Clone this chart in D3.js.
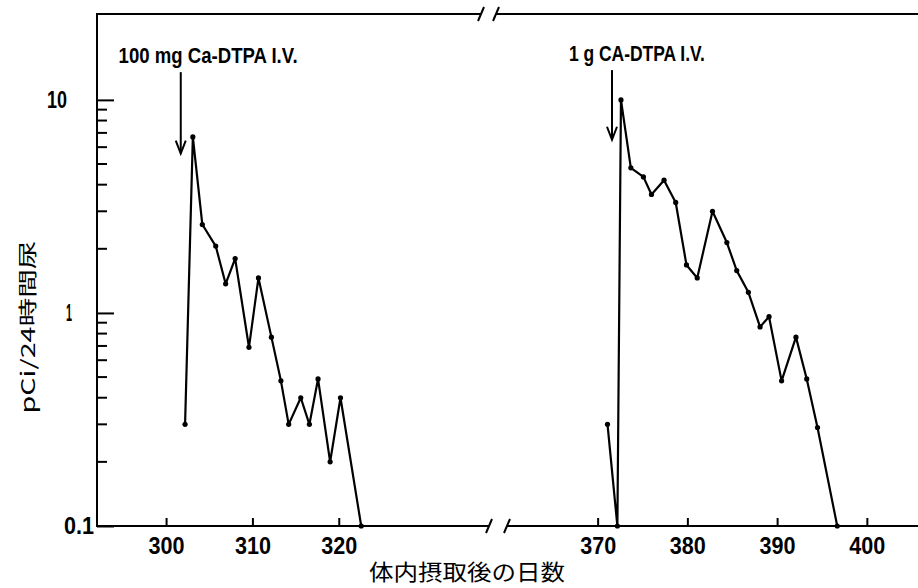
<!DOCTYPE html>
<html>
<head>
<meta charset="utf-8">
<script src="https://cdn.jsdelivr.net/npm/d3@7"></script>
<style>
  body { margin: 0; background: #fff; }
  svg { display: block; }
</style>
</head>
<body>
<div id="chart"></div>
<script>
// days after intake and pCi / 24h urine
var daysA = [302.2, 303.1, 304.2, 305.75, 306.9, 308.0, 309.6, 310.7, 312.2, 313.3, 314.2, 315.6, 316.6, 317.6, 319.0, 320.2, 322.6];
var valsA = [0.3, 6.7, 2.6, 2.06, 1.37, 1.8, 0.69, 1.46, 0.77, 0.48, 0.3, 0.4, 0.3, 0.49, 0.2, 0.4, 0.1];

var daysB = [371.1, 372.2, 372.6, 373.7, 375.1, 376.0, 377.4, 378.7, 379.9, 381.1, 382.8, 384.4, 385.5, 386.8, 388.1, 389.1, 390.5, 392.1, 393.3, 394.5, 396.7];
var valsB = [0.3, 0.1, 10, 4.8, 4.35, 3.6, 4.2, 3.3, 1.68, 1.46, 3.0, 2.14, 1.58, 1.25, 0.86, 0.96, 0.48, 0.77, 0.49, 0.29, 0.1];

var xTicks = [300, 310, 320, 370, 380, 390, 400];
var yMajor = [0.1, 1, 10];
var yMinor = [0.2, 0.3, 0.4, 0.5, 0.6, 0.7, 0.8, 0.9, 2, 3, 4, 5, 6, 7, 8, 9];

// injections
var doseLabels = ["100 mg Ca-DTPA I.V.", "1 g CA-DTPA I.V."];
var doseDays = [301.7, 371.6];
var doseFrom = [13.5, 13.8];
var doseTo = [5.6, 6.5];
var labelDays = [294.5, 366.8];

var W = 918, H = 588;
var pLeft = 97, pTop = 14, pBottom = 526;

// broken axis: two linear pieces with a gap between 337 and 360
var xBreak = [337.4, 359.9];
var x = d3.scaleLinear()
  .domain([292, xBreak[0], xBreak[1], 405.7])
  .range([pLeft, 489, 507, W]);

var y = d3.scaleLog()
  .domain([0.1, 25.3])
  .range([pBottom, pTop]);

var svg = d3.select("#chart").append("svg")
  .attr("width", W)
  .attr("height", H);

var narrow = "'Liberation Sans Narrow', 'Liberation Sans', sans-serif";

// axis frame
function seg(x1, y1, x2, y2) {
  svg.append("line")
    .attr("x1", x1).attr("y1", y1).attr("x2", x2).attr("y2", y2)
    .attr("stroke", "#000").attr("stroke-width", 2);
}
function slash(cx, cy) {
  svg.append("line")
    .attr("x1", cx - 3).attr("y1", cy + 7).attr("x2", cx + 3).attr("y2", cy - 7)
    .attr("stroke", "#000").attr("stroke-width", 2);
}

seg(pLeft, pTop - 1, pLeft, pBottom + 1);
// bottom
seg(pLeft, pBottom, x(xBreak[0]), pBottom);
seg(x(xBreak[1]), pBottom, W, pBottom);
slash(x(xBreak[0]), pBottom);
slash(x(xBreak[1]), pBottom);
// top (break sits a little more to the left)
var topShift = -8;
seg(pLeft, pTop, x(xBreak[0]) + topShift, pTop);
seg(x(xBreak[1]) + topShift - 3, pTop, W, pTop);
slash(x(xBreak[0]) + topShift, pTop);
slash(x(xBreak[1]) + topShift - 3, pTop);

// x axis ticks and labels
var xAxis = d3.axisBottom(x)
  .tickValues(xTicks)
  .tickSizeInner(-8)
  .tickSizeOuter(0)
  .tickPadding(12)
  .tickFormat(d3.format("d"));

var gx = svg.append("g")
  .attr("transform", "translate(0," + pBottom + ")")
  .call(xAxis);
gx.select(".domain").remove();
gx.selectAll("line").attr("stroke", "#000").attr("stroke-width", 2);
gx.selectAll("text")
  .attr("font-family", narrow)
  .attr("font-weight", "bold")
  .attr("font-size", 23)
  .attr("textLength", 36)
  .attr("lengthAdjust", "spacingAndGlyphs")
  .attr("fill", "#000");

// y axis minor ticks, drawn inward from the axis
svg.append("g")
  .selectAll("line")
  .data(yMinor)
  .enter()
  .append("line")
  .attr("x1", pLeft)
  .attr("x2", pLeft + 10)
  .attr("y1", function(d) { return y(d); })
  .attr("y2", function(d) { return y(d); })
  .attr("stroke", "#000")
  .attr("stroke-width", 2);

var gy = svg.append("g")
  .attr("transform", "translate(" + pLeft + ",0)")
  .call(d3.axisLeft(y).tickValues(yMajor).tickSizeInner(-17).tickSizeOuter(0).tickPadding(30)
    .tickFormat(function(d) { return d < 1 ? "0.1" : d3.format("d")(d); }));
gy.select(".domain").remove();
gy.selectAll("line").attr("stroke", "#000").attr("stroke-width", 2);
gy.selectAll("text")
  .attr("font-family", narrow)
  .attr("font-weight", "bold")
  .attr("font-size", 23)
  .attr("fill", "#000")
  .attr("x", function(d) { return d < 1 ? -3 : (d < 10 ? -25 : -30); })
  .attr("textLength", function(d) { return d < 1 ? 30 : (d < 10 ? 6 : 20); })
  .attr("lengthAdjust", "spacingAndGlyphs");

// axis titles
svg.append("text")
  .attr("transform", "translate(35,327) rotate(-90)")
  .attr("text-anchor", "middle")
  .attr("font-family", "'Noto Sans CJK JP', sans-serif")
  .attr("font-size", 19)
  .attr("textLength", 173)
  .attr("lengthAdjust", "spacingAndGlyphs")
  .text("pCi/24時間尿");

svg.append("text")
  .attr("x", 467)
  .attr("y", 580)
  .attr("text-anchor", "middle")
  .attr("font-family", "'Noto Sans CJK JP', sans-serif")
  .attr("font-size", 22)
  .attr("textLength", 196)
  .attr("lengthAdjust", "spacingAndGlyphs")
  .text("体内摂取後の日数");

// series
var line = d3.line()
  .x(function(d) { return x(d[0]); })
  .y(function(d) { return y(d[1]); });

[d3.zip(daysA, valsA), d3.zip(daysB, valsB)].forEach(function(s) {
  svg.append("path")
    .datum(s)
    .attr("d", line)
    .attr("fill", "none")
    .attr("stroke", "#000")
    .attr("stroke-width", 2.2)
    .attr("stroke-linejoin", "round");

  svg.selectAll(null)
    .data(s)
    .enter()
    .append("circle")
    .attr("cx", function(d) { return x(d[0]); })
    .attr("cy", function(d) { return y(d[1]); })
    .attr("r", 2.6)
    .attr("fill", "#000");
});

// dose arrows and labels
doseDays.forEach(function(d, i) {
  var ax = x(d), y0 = y(doseFrom[i]), y1 = y(doseTo[i]);
  seg(ax, y0, ax, y1);
  svg.append("path")
    .attr("d", "M" + (ax - 5) + "," + (y1 - 13) + "L" + ax + "," + y1 + "L" + (ax + 5) + "," + (y1 - 13))
    .attr("fill", "none")
    .attr("stroke", "#000")
    .attr("stroke-width", 2);

  svg.append("text")
    .attr("x", x(labelDays[i]))
    .attr("y", y0 - 9)
    .attr("font-family", narrow)
    .attr("font-weight", "bold")
    .attr("font-size", 22)
    .attr("textLength", i === 0 ? 179 : 136)
    .attr("lengthAdjust", "spacingAndGlyphs")
    .text(doseLabels[i]);
});
</script>
</body>
</html>
